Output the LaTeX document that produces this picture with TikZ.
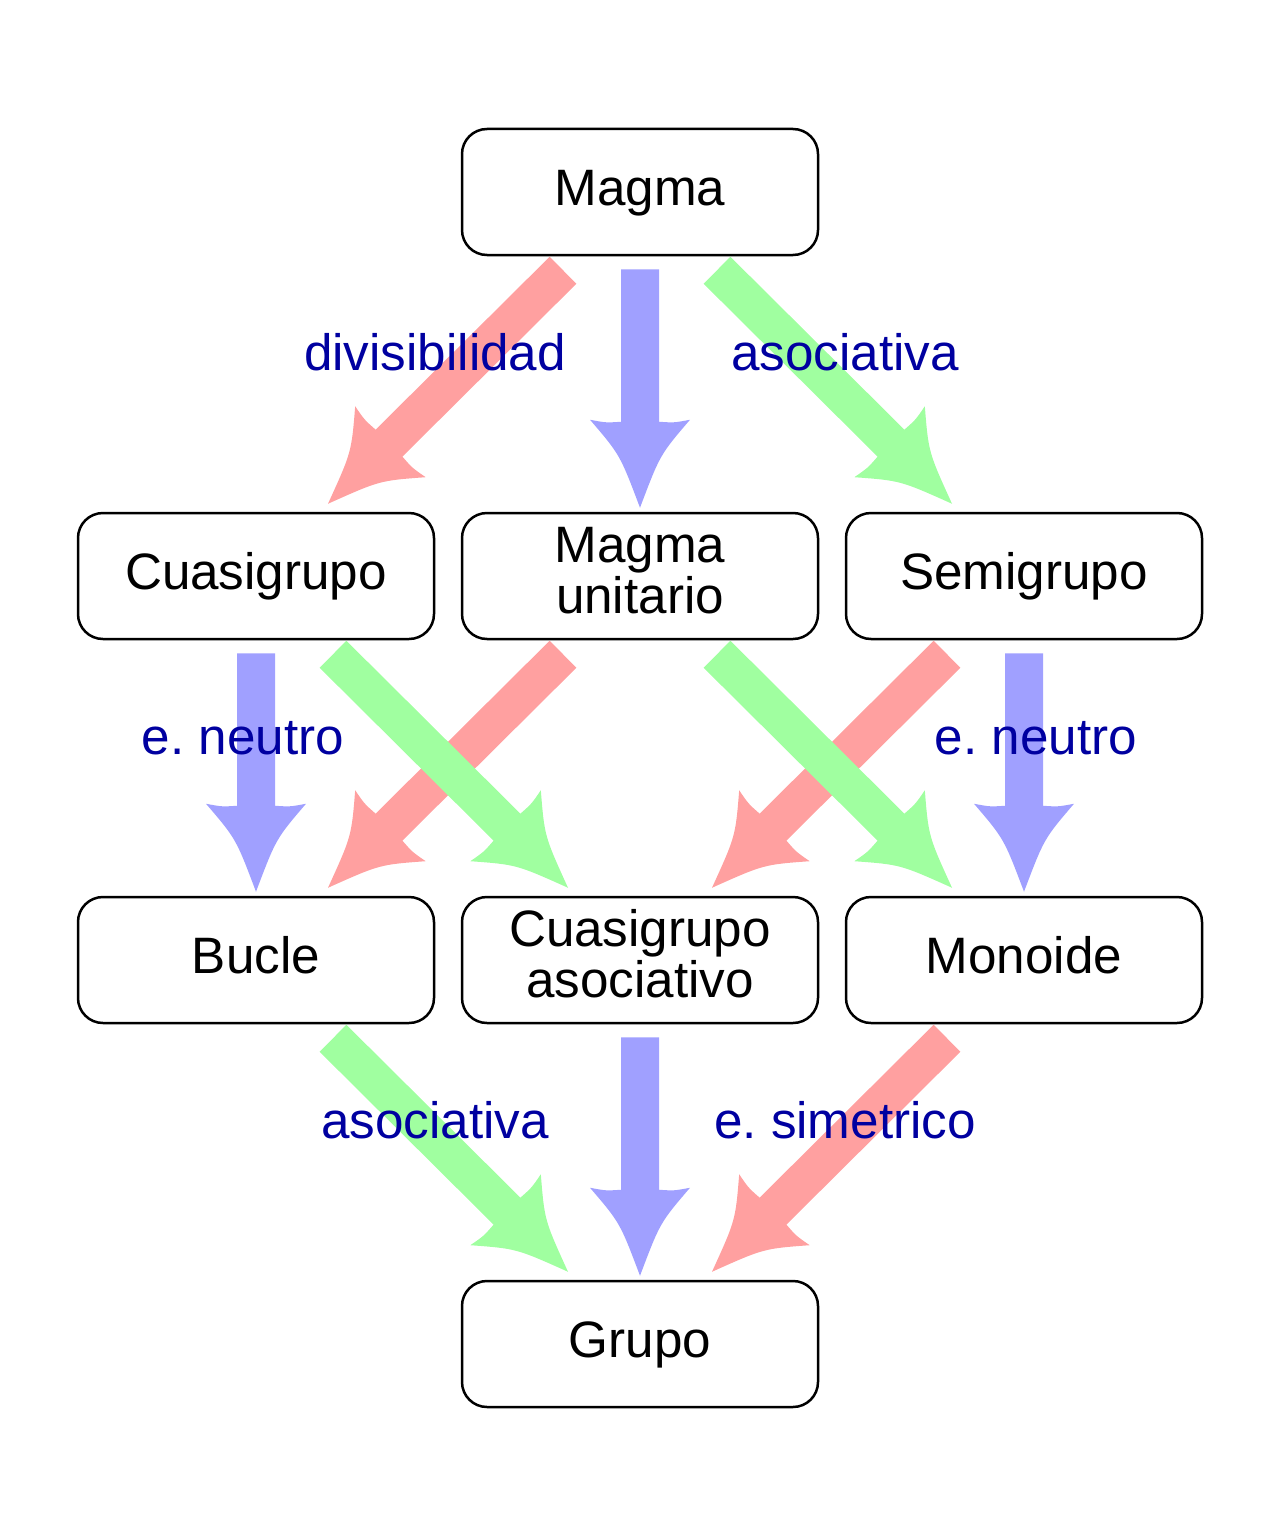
\documentclass[tikz,border=0pt]{standalone}
\usepackage{fontspec}
\setmainfont{Liberation Sans}
\frenchspacing
\usetikzlibrary{calc}
\definecolor{arred}{RGB}{255,160,160}
\definecolor{arblue}{RGB}{160,160,255}
\definecolor{argreen}{RGB}{160,255,160}
\definecolor{lab}{RGB}{0,0,160}
% #1 colour, #2 start coordinate, #3 tip coordinate
\newcommand\fatarrow[3]{%
  \coordinate (fa-h) at ($(#3)!44pt!(#2)$);
  \coordinate (fa-j) at ($(#3)!43pt!(#2)$);
  \coordinate (fa-c) at ($(#3)!26.5pt!(#2)$);
  \coordinate (fa-b) at ($(#3)!42.5pt!(#2)$);
  \fill[#1] ($(#2)!9.5pt!90:(#3)$) -- ($(fa-j)!9.5pt!90:(#3)$)
    .. controls ($(fa-b)!17pt!90:(#3)$) .. ($(fa-h)!25pt!90:(#3)$)
    .. controls ($(fa-c)!10pt!90:(#3)$) .. (#3)
    .. controls ($(fa-c)!10pt!-90:(#3)$) .. ($(fa-h)!25pt!-90:(#3)$)
    .. controls ($(fa-b)!17pt!-90:(#3)$) .. ($(fa-j)!9.5pt!-90:(#3)$)
    -- ($(#2)!9.5pt!-90:(#3)$) -- cycle;}
\begin{document}
\begin{tikzpicture}[x=0.5pt,y=-0.5pt,
  box/.style={draw=black,line width=1.25pt,rounded corners=12.5pt,
    minimum width=178pt,minimum height=63pt,inner sep=0pt,align=center,
    font=\fontsize{25.6pt}{25.5pt}\selectfont},
  one/.style={text height=18pt,text depth=5pt},
  two/.style={text height=46pt,text depth=9pt},
  lbl/.style={text=lab,font=\fontsize{25.6pt}{25.5pt}\selectfont,
    anchor=base,inner sep=0pt}]
\useasboundingbox (0,0) rectangle (1280,1536);
% boxes
\node[box,one] (magma) at (640,192) {Magma};
\node[box,one] (cg) at (256,576) {Cuasigrupo};
\node[box,two] (mu) at (640,576) {Magma\\unitario};
\node[box,one] (sg) at (1024,576) {Semigrupo};
\node[box,one] (bucle) at (256,960) {Bucle};
\node[box,two] (ca) at (640,960) {Cuasigrupo\\asociativo};
\node[box,one] (mon) at (1024,960) {Monoide};
\node[box,one] (grupo) at (640,1344) {Grupo};
% arrow end points
\coordinate (s1) at ($(magma.south)+(-77,14)$);
\coordinate (t1) at ($(cg.north)+(72,-8)$);
\coordinate (s2) at ($(magma.south)+(0,13)$);
\coordinate (t2) at ($(mu.north)+(0,-4)$);
\coordinate (s3) at ($(magma.south)+(77,14)$);
\coordinate (t3) at ($(sg.north)+(-72,-8)$);
\coordinate (s4) at ($(cg.south)+(0,13)$);
\coordinate (t4) at ($(bucle.north)+(0,-4)$);
\coordinate (s5) at ($(cg.south)+(77,14)$);
\coordinate (t5) at ($(ca.north)+(-72,-8)$);
\coordinate (s6) at ($(mu.south)+(-77,14)$);
\coordinate (t6) at ($(bucle.north)+(72,-8)$);
\coordinate (s7) at ($(mu.south)+(77,14)$);
\coordinate (t7) at ($(mon.north)+(-72,-8)$);
\coordinate (s8) at ($(sg.south)+(-77,14)$);
\coordinate (t8) at ($(ca.north)+(72,-8)$);
\coordinate (s9) at ($(sg.south)+(0,13)$);
\coordinate (t9) at ($(mon.north)+(0,-4)$);
\coordinate (s10) at ($(bucle.south)+(77,14)$);
\coordinate (t10) at ($(grupo.north)+(-72,-8)$);
\coordinate (s11) at ($(ca.south)+(0,13)$);
\coordinate (t11) at ($(grupo.north)+(0,-4)$);
\coordinate (s12) at ($(mon.south)+(-77,14)$);
\coordinate (t12) at ($(grupo.north)+(72,-8)$);
% arrows: blue, red, then green on top
\fatarrow{arblue}{s2}{t2}
\fatarrow{arblue}{s4}{t4}
\fatarrow{arblue}{s9}{t9}
\fatarrow{arblue}{s11}{t11}
\fatarrow{arred}{s1}{t1}
\fatarrow{arred}{s6}{t6}
\fatarrow{arred}{s8}{t8}
\fatarrow{arred}{s12}{t12}
\fatarrow{argreen}{s3}{t3}
\fatarrow{argreen}{s5}{t5}
\fatarrow{argreen}{s7}{t7}
\fatarrow{argreen}{s10}{t10}
% labels
\node[lbl] (l1) at (435,370) {divisibilidad};
\node[lbl] (l2) at (845,370) {asociativa};
\node[lbl] (l3) at (243,754) {e. neutro};
\node[lbl] (l4) at (1036,754) {e. neutro};
\node[lbl] (l5) at (435,1138) {asociativa};
\node[lbl] (l6) at (845,1138) {e. simetrico};
\end{tikzpicture}
\end{document}
